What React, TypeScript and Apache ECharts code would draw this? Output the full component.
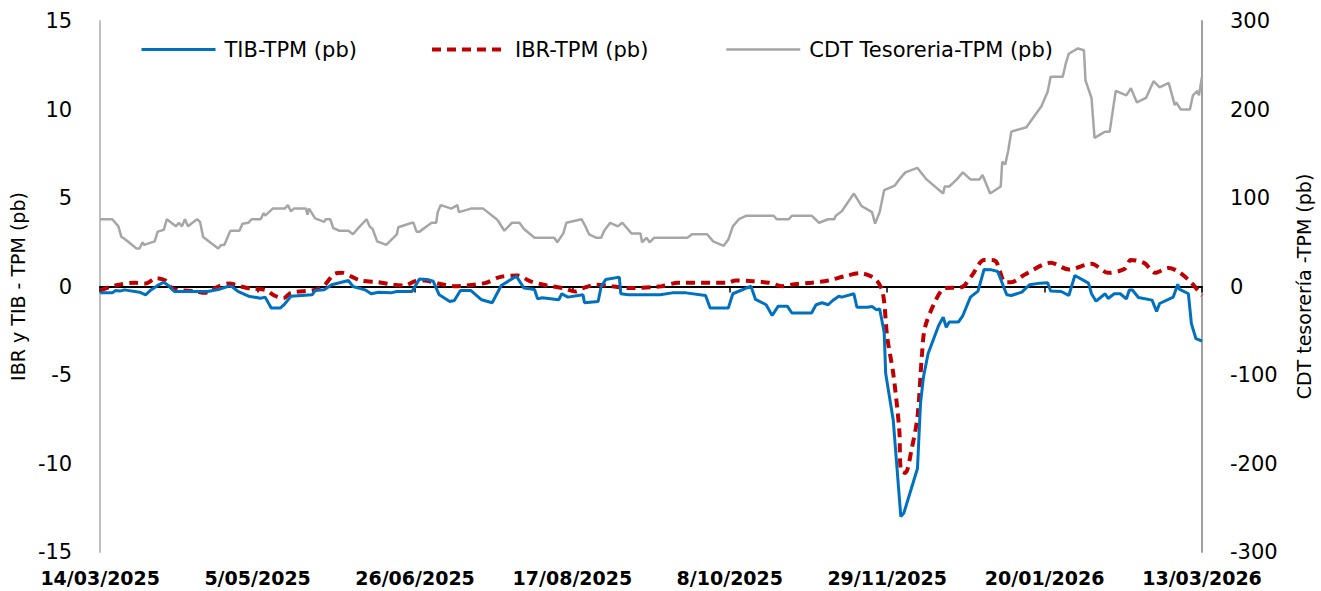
import React, { useEffect, useRef } from "react";
import * as echarts from "echarts";

// x positions are days counted from 14/03/2025
const xTickLabels = ["14/03/2025", "5/05/2025", "26/06/2025", "17/08/2025", "8/10/2025", "29/11/2025", "20/01/2026", "13/03/2026"];
const xTickStep = 52;
const xMaxDay = 364;

const tibDays = [0, 4, 5, 6.5, 8, 13, 15, 16.5, 19, 21, 22.5, 24.5, 35.5, 39, 42.5, 43.5, 45.5, 49, 53, 54.5, 56.5, 59.5, 61, 63, 70, 71, 74, 76.5, 82, 83.5, 87.5, 89.5, 92, 96, 98, 103, 105.5, 108, 110, 112, 115.5, 117, 119, 122.5, 126, 129.5, 132.5, 137.5, 140, 143.5, 144.5, 146, 151.5, 152.5, 154.5, 159.5, 160, 164.5, 165.5, 167, 171.5, 172, 174.5, 185, 189, 193.5, 200, 201.5, 207.5, 209, 215, 216.5, 220, 222, 224, 227, 228.5, 235, 236.5, 238.5, 240.5, 242, 244, 245, 249, 250, 253.5, 255, 256.5, 257.5, 259, 259.5, 262, 264.5, 265.5, 270, 271, 272, 273.5, 277, 278.5, 279.5, 280.5, 283.5, 285, 287.5, 290, 292, 294.5, 296.5, 299.5, 301, 304.5, 307, 310.5, 313, 314, 317.5, 320, 322, 326.5, 327.5, 329, 332, 333, 335, 337, 339, 340, 341, 343, 347.5, 349, 350, 354.5, 356, 356.5, 359.5, 360.5, 362, 364];
const tibValues = [-0.36, -0.36, -0.23, -0.26, -0.19, -0.32, -0.47, -0.23, 0.06, 0.24, 0.06, -0.28, -0.28, -0.17, 0.02, 0, -0.28, -0.55, -0.66, -0.6, -1.22, -1.22, -0.98, -0.55, -0.47, -0.23, -0.19, 0.1, 0.34, 0, -0.19, -0.41, -0.32, -0.36, -0.28, -0.28, 0.43, 0.4, 0.3, -0.47, -0.85, -0.79, -0.23, -0.23, -0.75, -0.92, 0.06, 0.58, -0.09, -0.17, -0.7, -0.64, -0.75, -0.41, -0.6, -0.47, -0.92, -0.85, 0, 0.39, 0.53, -0.41, -0.47, -0.47, -0.36, -0.36, -0.51, -1.22, -1.22, -0.41, 0.02, -0.73, -1.03, -1.64, -1.11, -1.11, -1.5, -1.5, -1.03, -0.92, -1.03, -0.79, -0.55, -0.6, -0.41, -1.17, -1.17, -1.13, -1.32, -1.26, -2.58, -4.92, -7.56, -13.0, -12.8, -10.28, -6.6, -5.1, -3.8, -2.2, -1.73, -2.3, -2.01, -2.01, -1.64, -0.6, -0.26, 0.96, 0.94, 0.85, -0.47, -0.51, -0.32, 0.1, 0.19, 0.21, -0.26, -0.28, -0.51, 0.62, 0.19, -0.41, -0.83, -0.41, -0.68, -0.41, -0.41, -0.7, -0.2, -0.2, -0.62, -0.77, -1.41, -0.96, -0.6, 0.13, -0.15, -0.41, -2.1, -2.95, -3.08];

const ibrDays = [0, 5, 11.5, 15, 18.5, 21.5, 24, 31.5, 34.5, 39, 42.5, 46.5, 50, 54.5, 57.5, 60.5, 63, 71, 74, 77.5, 80, 83, 86, 92, 97, 100.5, 104, 107, 111.5, 117, 127, 132, 138, 142, 147.5, 153, 157, 159.5, 164, 169, 174.5, 185.5, 191, 207, 210, 215.5, 221, 225.5, 229.5, 235, 240.5, 246, 251, 256, 258.5, 260, 262, 264, 264.5, 266, 268, 270, 271.5, 272.5, 276, 279, 284.5, 288, 292, 295.5, 299, 301, 305.5, 314, 320, 327.5, 333, 338.5, 340.5, 345, 348.5, 353, 356.5, 360.5, 364];
const ibrValues = [-0.23, 0.06, 0.21, 0.17, 0.47, 0.34, -0.13, -0.28, -0.36, 0, 0.17, 0, -0.13, -0.19, -0.51, -0.66, -0.36, -0.19, 0.06, 0.72, 0.77, 0.56, 0.34, 0.24, 0.1, 0.06, 0.3, 0.34, 0.17, 0.02, 0.19, 0.53, 0.62, 0.3, 0.06, -0.09, -0.28, -0.09, 0.1, 0.02, -0.09, 0.02, 0.21, 0.21, 0.34, 0.3, 0.21, 0.02, 0.13, 0.21, 0.34, 0.58, 0.75, 0.43, -0.32, -2.86, -4.92, -8.12, -10.38, -10.53, -9.25, -7.37, -3.8, -2.3, -0.79, -0.09, -0.04, 0.62, 1.5, 1.47, 0.24, 0.24, 0.68, 1.34, 0.96, 1.28, 0.77, 1.0, 1.5, 1.32, 0.77, 1.05, 0.81, 0.21, -0.51];

const cdtDays = [0, 4, 6, 7, 8, 12, 13, 14, 14.5, 18, 19, 21, 22, 25, 26, 27, 28, 29, 32, 33, 34, 39, 40, 41, 43, 46, 47, 49, 50, 53, 54, 54.5, 57, 61, 62, 63, 64, 68, 68.5, 69, 71, 74, 74.5, 76, 77, 79, 82, 83.5, 85, 88, 89, 90, 91.5, 94.5, 98, 98.5, 103, 103.5, 104.5, 105.5, 109.5, 111, 111.5, 112.5, 116, 118, 118.5, 122.5, 126.5, 131, 131.5, 133.5, 136, 138.5, 140, 143.5, 150, 151, 153, 154, 159, 160, 161.5, 164, 165.5, 166.5, 168.5, 171, 172.5, 175.5, 178.5, 179, 180.5, 181.5, 183, 194, 195.5, 200.5, 202.5, 206, 207.5, 209, 211, 213.5, 222.5, 223.5, 227.5, 228.5, 235, 237.5, 240.5, 242.5, 243, 245, 249, 251.5, 255, 256, 257.5, 259, 262.5, 264, 266, 270, 273, 278.5, 279, 280.5, 283, 285, 287.5, 290.5, 291.5, 294, 297.5, 298, 299, 300, 301, 306, 308.5, 311, 313, 314, 318, 319, 320, 323, 325, 325.5, 327.5, 328.5, 332, 333.5, 335.5, 339, 340.5, 342.5, 345.5, 348, 350, 353, 355, 355.5, 357, 360, 361, 362.5, 363, 364];
const cdtValues = [76, 76, 68, 56, 54, 43, 43, 50, 47, 51, 62, 64, 76, 68, 72, 68, 76, 68, 76, 73, 56, 43, 47, 47, 63, 63, 71, 72, 76, 76, 83, 80, 88, 88, 92, 85, 88, 88, 81, 88, 77, 73, 76, 76, 66, 63, 63, 59, 65, 76, 68, 65, 51, 47, 59, 67, 72, 72, 62, 62, 72, 72, 84, 92, 88, 92, 84, 88, 88, 76, 74, 63, 72, 72, 65, 55, 55, 50, 60, 72, 76, 70, 59, 55, 55, 63, 72, 68, 72, 60, 60, 50, 55, 50, 55, 55, 59, 59, 51, 46, 53, 68, 76, 80, 80, 76, 76, 80, 80, 72, 76, 76, 80, 85, 105, 91, 84, 71, 84, 109, 114, 121, 129, 134, 121, 105, 113, 113, 121, 129, 121, 121, 126, 105, 113, 141, 138, 154, 175, 180, 192, 204, 220, 237, 237, 252, 263, 269, 267, 233, 213, 168, 175, 175, 221, 216, 224, 208, 213, 232, 225, 230, 205, 208, 200, 200, 216, 221, 216, 237];

const zip = (xs: number[], ys: number[]) => xs.map((x, i) => [x, ys[i]]);

const FONT = "DejaVu Sans";

export default function App() {
  const ref = useRef<HTMLDivElement>(null);
  useEffect(() => {
    document.body.style.margin = "0";
    if (!ref.current) return;
    const chart = echarts.init(ref.current, undefined, { renderer: "svg" });
    const legendText = { fontFamily: FONT, fontSize: 21, color: "#000", padding: [0, 0, 0, 4] };
    const legendBase = {
      top: 39,
      padding: 0,
      itemWidth: 74,
      itemHeight: 14,
      itemStyle: { opacity: 0 },
      textStyle: legendText,
      selectedMode: false,
    };
    chart.setOption({
      animation: false,
      backgroundColor: "#fff",
      textStyle: { fontFamily: FONT },
      grid: { left: 100, right: 115, top: 21, bottom: 39, containLabel: false },
      legend: [
        { ...legendBase, left: 140, lineStyle: { width: 3 }, data: ["TIB-TPM (pb)"] },
        { ...legendBase, left: 430, lineStyle: { width: 4 }, data: ["IBR-TPM (pb)"] },
        { ...legendBase, left: 725, lineStyle: { width: 2.5 }, data: ["CDT Tesoreria-TPM (pb)"] },
      ],
      xAxis: [
        {
          type: "value",
          min: 0,
          max: xMaxDay,
          interval: xTickStep,
          position: "bottom",
          axisLine: { show: false, onZero: false },
          axisTick: { show: false },
          splitLine: { show: false },
          axisLabel: {
            margin: 16,
            fontFamily: FONT,
            fontSize: 19,
            fontWeight: "bold",
            color: "#000",
            showMinLabel: true,
            showMaxLabel: true,
            formatter: (v: number) => xTickLabels[Math.round(v / xTickStep)] ?? "",
          },
        },
        {
          type: "value",
          min: 0,
          max: xMaxDay,
          interval: xTickStep,
          position: "bottom",
          axisLine: { show: true, onZero: true, onZeroAxisIndex: 0, lineStyle: { color: "#000", width: 2 } },
          axisTick: { show: true, length: 6, lineStyle: { color: "#000", width: 1.5 } },
          axisLabel: { show: false },
          splitLine: { show: false },
        },
      ],
      yAxis: [
        {
          type: "value",
          min: -15,
          max: 15,
          interval: 5,
          position: "left",
          name: "IBR y TIB - TPM (pb)",
          nameLocation: "middle",
          nameRotate: 90,
          nameGap: 64,
          nameTextStyle: { fontFamily: FONT, fontSize: 19, color: "#000" },
          axisLine: { show: true, onZero: false, lineStyle: { color: "#BFBFBF", width: 2 } },
          axisTick: { show: false },
          splitLine: { show: false },
          axisLabel: { margin: 28, fontFamily: FONT, fontSize: 21, color: "#000" },
        },
        {
          type: "value",
          min: -300,
          max: 300,
          interval: 100,
          position: "right",
          name: "CDT tesorería -TPM (pb)",
          nameLocation: "middle",
          nameRotate: 90,
          nameGap: 92,
          nameTextStyle: { fontFamily: FONT, fontSize: 19, color: "#000" },
          axisLine: { show: true, onZero: false, lineStyle: { color: "#A0A0A0", width: 2 } },
          axisTick: { show: false },
          splitLine: { show: false },
          axisLabel: { margin: 28, fontFamily: FONT, fontSize: 21, color: "#000" },
        },
      ],
      series: [
        {
          name: "TIB-TPM (pb)",
          type: "line",
          xAxisIndex: 0,
          yAxisIndex: 0,
          symbol: "none",
          z: 4,
          lineStyle: { color: "#0070C0", width: 3 },
          itemStyle: { color: "#0070C0" },
          data: zip(tibDays, tibValues),
        },
        {
          name: "IBR-TPM (pb)",
          type: "line",
          xAxisIndex: 0,
          yAxisIndex: 0,
          symbol: "none",
          smooth: 0.3,
          z: 3,
          lineStyle: { color: "#C00000", width: 4, type: [9, 6] },
          itemStyle: { color: "#C00000" },
          data: zip(ibrDays, ibrValues),
        },
        {
          name: "CDT Tesoreria-TPM (pb)",
          type: "line",
          xAxisIndex: 0,
          yAxisIndex: 1,
          symbol: "none",
          z: 2,
          lineStyle: { color: "#A6A6A6", width: 2.5 },
          itemStyle: { color: "#A6A6A6" },
          data: zip(cdtDays, cdtValues),
        },
      ],
    });
    return () => chart.dispose();
  }, []);
  return <div ref={ref} style={{ width: 1321, height: 591 }} />;
}
